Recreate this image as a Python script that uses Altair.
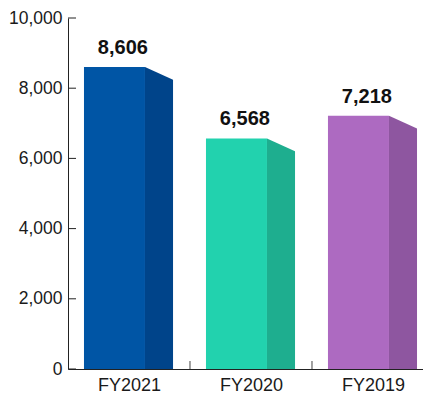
import altair as alt
import pandas as pd

categories = ["FY2021", "FY2020", "FY2019"]
values = [8606, 6568, 7218]
front_colors = ["#0055a5", "#22d2ae", "#ad6ac1"]
side_colors = ["#00448a", "#1eae8f", "#8e56a0"]
y_ticks = [0, 2000, 4000, 6000, 8000, 10000]
x_boundaries = [1, 2]

W, H = 355, 351
X_MAX = 2.91  # visible part of the three category bands
FRONT_L, FRONT_R, SIDE_R, LABEL_C = 0.131, 0.631, 0.861, 0.45
DROP = 365  # visual slant of the side face in value units

bars = pd.DataFrame({
    "cat": categories,
    "value": values,
    "idx": list(range(len(categories))),
    "front": front_colors,
})
bars["x0"] = bars["idx"] + FRONT_L
bars["x1"] = bars["idx"] + FRONT_R
bars["xl"] = bars["idx"] + LABEL_C
bars["label"] = [f"{v:,}" for v in values]

side_rows = []
for i, (c, v, col) in enumerate(zip(categories, values, side_colors)):
    side_rows.append({"cat": c, "x": i + FRONT_R, "y": v, "y0": 0, "col": col})
    side_rows.append({"cat": c, "x": i + SIDE_R, "y": v - DROP, "y0": 0, "col": col})
side = pd.DataFrame(side_rows)

xscale = alt.Scale(domain=[0, X_MAX], nice=False, zero=False)
yscale = alt.Scale(domain=[0, 10000], nice=False)

font = "Arial, Liberation Sans"

x_axis = alt.Axis(
    values=[0.5, 1.5, 2.5],
    labelExpr="['FY2021','FY2020','FY2019'][floor(datum.value)]",
    ticks=False, tickSize=0, grid=False, title=None,
    labelFontSize=18, labelFont=font, labelColor="#1a1a1a",
    labelPadding=7, domainColor="#222222", labelFlush=False)
y_axis = alt.Axis(
    values=y_ticks, labelExpr="format(datum.value, ',')",
    ticks=False, tickSize=0, grid=False,
    title=None, labelFontSize=17.5, labelFont=font, labelColor="#1a1a1a",
    labelPadding=6, domainColor="#222222", labelFlush=False)

front = alt.Chart(bars).mark_rect().encode(
    x=alt.X("x0:Q", scale=xscale, axis=x_axis),
    x2="x1:Q",
    y=alt.Y("value:Q", scale=yscale, axis=y_axis),
    y2=alt.datum(0),
    color=alt.Color("front:N", scale=None),
)

side_area = alt.Chart(side).mark_area().encode(
    x=alt.X("x:Q", scale=xscale, axis=x_axis),
    y=alt.Y("y:Q", scale=yscale, axis=y_axis),
    y2="y0:Q",
    detail="cat:N",
    color=alt.Color("col:N", scale=None),
)

labels = alt.Chart(bars).mark_text(
    fontSize=20, fontWeight="bold", font=font, color="#111111",
    baseline="alphabetic", dy=-13
).encode(
    x=alt.X("xl:Q", scale=xscale, axis=x_axis),
    y=alt.Y("value:Q", scale=yscale, axis=y_axis),
    text="label:N",
)

ytick_rules = alt.Chart(pd.DataFrame({"t": y_ticks})).mark_rule(
    color="#222222", strokeWidth=1
).encode(
    y=alt.Y("t:Q", scale=yscale, axis=y_axis),
    x=alt.value(0),
    x2=alt.value(8),
)

xtick_rules = alt.Chart(pd.DataFrame({"b": x_boundaries})).mark_rule(
    color="#444444", strokeWidth=1
).encode(
    x=alt.X("b:Q", scale=xscale, axis=x_axis),
    y=alt.value(H),
    y2=alt.value(H - 8),
)

chart = alt.layer(front, side_area, labels, ytick_rules, xtick_rules).properties(
    width=W, height=H,
    autosize=alt.AutoSizeParams(type="none"),
    padding={"left": 60, "top": 10, "right": 0, "bottom": 25},
).configure_view(stroke=None)

chart.save("out.html", embed_options={"renderer": "svg", "actions": False})
